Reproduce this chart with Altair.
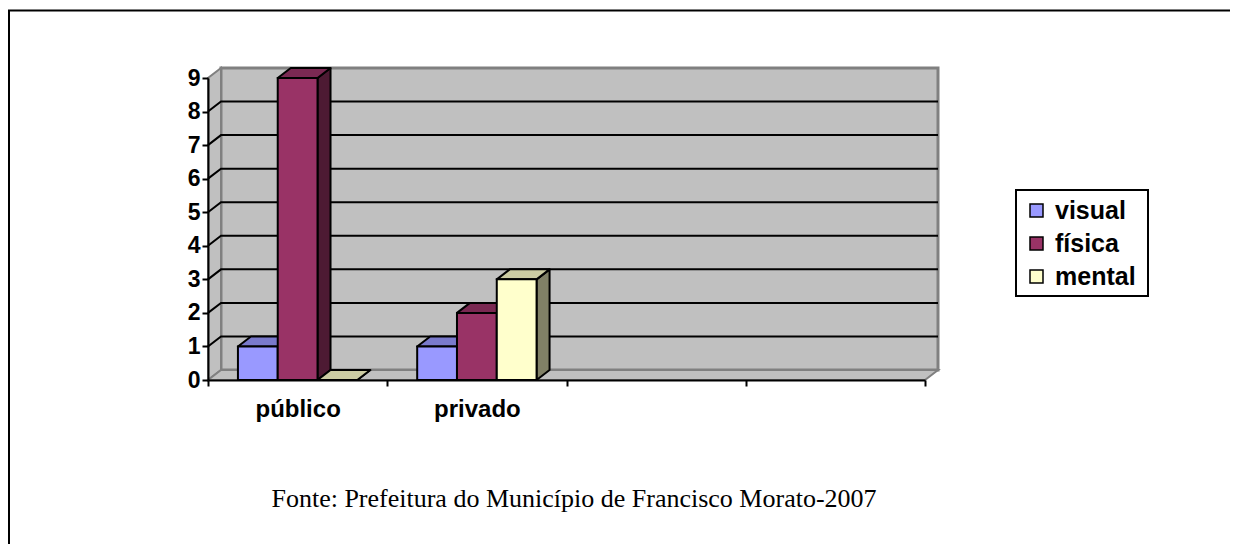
import json
import altair as alt
import pandas as pd

# ---------------- data ----------------
categories = ["público", "privado", "", ""]
series = ["visual", "física", "mental"]
visual = [1, 1]
fisica = [9, 2]
mental = [0, 3]
y_ticks = [0, 1, 2, 3, 4, 5, 6, 7, 8, 9]
caption = "Fonte: Prefeitura do Município de Francisco Morato-2007"

# ---------------- styles ----------------
front_colors = ["#9999FF", "#993366", "#FFFFCC"]
top_colors = ["#7A7ACC", "#7A2952", "#CCCCA3"]
side_colors = ["#4D4D80", "#4D1A33", "#808066"]
wall_fill = "#C0C0C0"
wall_stroke = "#808080"

W, H = 717, 302
PAD = {"left": 200, "top": 70, "right": 305, "bottom": 164}
n_slots = len(categories)
y_max = max(y_ticks)
bar_w = 0.222
dx = 13 / (W / n_slots)      # 3D depth in x units
dy = 10 / (H / y_max)        # 3D depth in y units

values = [visual, fisica, mental]

# ---------------- build tables ----------------
fronts, tops, sides = [], [], []
for ci in range(len(visual)):
    for si, s in enumerate(series):
        v = values[si][ci]
        x0 = ci + 0.5 + (si - 1.5) * bar_w
        x1 = x0 + bar_w
        fid = f"{ci}-{si}"
        fronts.append({"series": s, "x": x0, "x2": x1, "y": 0, "y2": v, "cat": categories[ci]})
        for k, (xx, ya, yb) in enumerate([(x0, v, v), (x0 + dx, v, v + dy),
                                          (x1, v, v + dy), (x1 + dx, v + dy, v + dy)]):
            tops.append({"face": fid, "k": k, "x": xx, "y": ya, "y2": yb, "color": top_colors[si]})
        for k, (xx, ya, yb) in enumerate([(x1, 0, v), (x1 + dx, dy, v + dy)]):
            sides.append({"face": fid, "k": k, "x": xx, "y": ya, "y2": yb, "color": side_colors[si]})

fronts = pd.DataFrame(fronts)
tops = pd.DataFrame(tops)
sides = pd.DataFrame(sides)

back_wall = pd.DataFrame([{"x": dx, "x2": n_slots + dx, "y": dy, "y2": y_max + dy}])
left_wall = pd.DataFrame([{"face": "w", "x": 0, "y": 0, "y2": y_max},
                          {"face": "w", "x": dx, "y": dy, "y2": y_max + dy}])
floor = pd.DataFrame([{"face": "f", "x": 0, "y": 0, "y2": 0},
                      {"face": "f", "x": dx, "y": 0, "y2": dy},
                      {"face": "f", "x": n_slots, "y": 0, "y2": dy},
                      {"face": "f", "x": n_slots + dx, "y": dy, "y2": dy}])
grid = []
for v in y_ticks[1:-1]:
    for k, (xx, yy) in enumerate([(0, v), (dx, v + dy), (n_slots + dx, v + dy)]):
        grid.append({"v": v, "k": k, "x": xx, "y": yy})
grid = pd.DataFrame(grid)

xscale = alt.Scale(domain=[0, n_slots], nice=False, zero=False)
yscale = alt.Scale(domain=[0, y_max], nice=False, zero=False)

label_expr = f"datum.value < {len(categories)} ? {json.dumps(categories, ensure_ascii=False)}[datum.value] : ''"

x_axis = alt.Axis(values=list(range(n_slots + 1)), labelExpr=label_expr, labelOffset=W / n_slots / 2,
                  title=None, grid=False, tickSize=6, tickWidth=2, tickColor="black",
                  domainColor="black", domainWidth=2, labelFont="Liberation Sans",
                  labelFontWeight="bold", labelFontSize=24, labelColor="black", labelPadding=11,
                  labelFlush=False, labelOverlap=False, labelBound=False, zindex=1)
y_axis = alt.Axis(values=y_ticks, title=None, grid=False, tickSize=6, tickWidth=2, tickColor="black",
                  domainColor="black", domainWidth=2, labelFont="Liberation Sans",
                  labelFontWeight="bold", labelFontSize=23, labelColor="black", labelPadding=2,
                  labelFlush=False, labelOverlap=False, labelBound=False, zindex=1)

X = lambda: alt.X("x:Q", scale=xscale, axis=x_axis)
Y = lambda: alt.Y("y:Q", scale=yscale, axis=y_axis, stack=None)

wall = alt.Chart(back_wall).mark_rect(fill=wall_fill, stroke=wall_stroke, strokeWidth=3).encode(
    x=X(), x2="x2:Q", y=Y(), y2="y2:Q")

lwall = alt.Chart(left_wall).mark_area(fill=wall_fill, stroke=wall_stroke, strokeWidth=2).encode(
    x=X(), y=Y(), y2="y2:Q", detail="face:N")

floor_l = alt.Chart(floor).mark_area(fill=wall_fill, stroke=wall_stroke, strokeWidth=2).encode(
    x=X(), y=Y(), y2="y2:Q", detail="face:N")

grid_l = alt.Chart(grid).mark_line(color="black", strokeWidth=2).encode(
    x=X(), y=Y(), detail="v:N", order="k:Q")

side_l = alt.Chart(sides).mark_area(stroke="black", strokeWidth=2, strokeJoin="round").encode(
    x=X(), y=Y(), y2="y2:Q", detail="face:N", fill=alt.Fill("color:N", scale=None))

top_l = alt.Chart(tops).mark_area(stroke="black", strokeWidth=2, strokeJoin="round").encode(
    x=X(), y=Y(), y2="y2:Q", detail="face:N", fill=alt.Fill("color:N", scale=None))

front_l = alt.Chart(fronts).mark_rect(stroke="black", strokeWidth=2).encode(
    x=X(), x2="x2:Q", y=Y(), y2="y2:Q",
    fill=alt.Fill("series:N", scale=alt.Scale(domain=series, range=front_colors),
                  legend=alt.Legend(orient="none", legendX=808, legendY=112, title=None,
                                    symbolType="square", symbolSize=169, symbolStrokeColor="black",
                                    symbolStrokeWidth=1.5, symbolOpacity=1, labelFontSize=25,
                                    labelFont="Liberation Sans", labelFontWeight="bold",
                                    labelColor="black", padding=8, rowPadding=7, labelOffset=6)),
    tooltip=["cat:N", "series:N", "y2:Q"])

legend_box = alt.Chart(pd.DataFrame({"a": [0]})).mark_rect(
    fill="transparent", stroke="black", strokeWidth=2).encode(
    x=alt.value(808), x2=alt.value(940), y=alt.value(112), y2=alt.value(218))

cap = alt.Chart(pd.DataFrame({"t": [caption]})).mark_text(
    font="Liberation Serif", fontSize=26, color="black", baseline="alphabetic", align="center").encode(
    text="t:N", x=alt.value(366), y=alt.value(429))

frame_l = alt.Chart(pd.DataFrame({"a": [0]})).mark_rule(color="black", strokeWidth=2).encode(
    x=alt.value(-199), y=alt.value(-67.5), y2=alt.value(H + PAD["bottom"]))
frame_t = alt.Chart(pd.DataFrame({"a": [0]})).mark_rule(color="black", strokeWidth=2).encode(
    x=alt.value(-200), x2=alt.value(W + PAD["right"]), y=alt.value(-67.5))

chart = alt.layer(wall, lwall, floor_l, grid_l, side_l, top_l, front_l, legend_box, cap,
                  frame_l, frame_t).properties(
    width=W, height=H, padding=PAD, autosize=alt.AutoSizeParams(type="none"),
    background="white").configure_view(stroke=None)

chart.save("out.html", embed_options={"renderer": "svg", "actions": False})
